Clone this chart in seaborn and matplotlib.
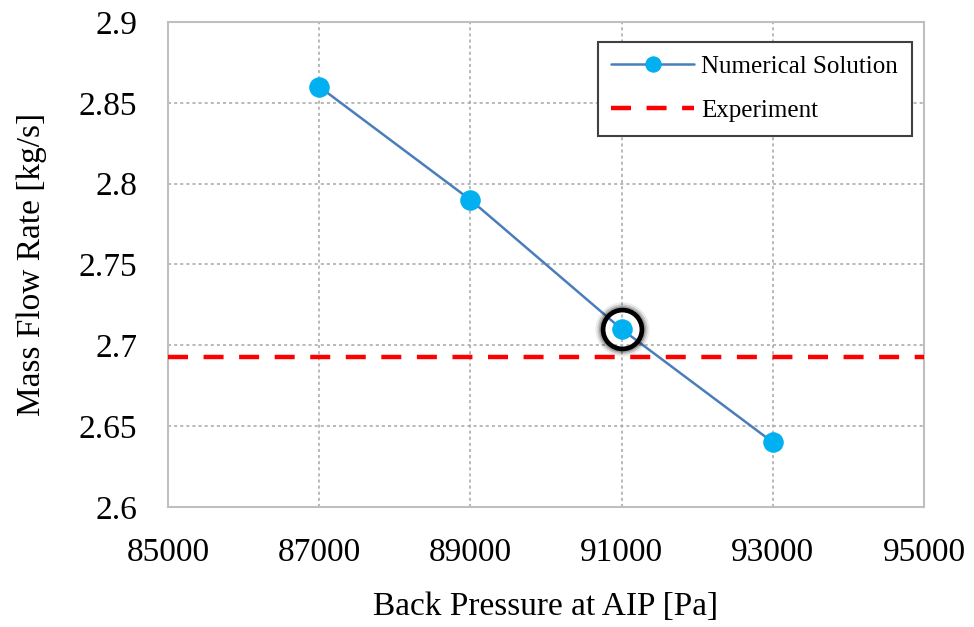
import matplotlib
matplotlib.use("Agg")
import matplotlib.pyplot as plt
import seaborn as sns
import pandas as pd
from matplotlib.ticker import FuncFormatter

back_pressure = [87000, 89000, 91000, 93000]
mass_flow = [2.86, 2.79, 2.71, 2.64]
experiment_value = 2.693
highlight_x = 91000
highlight_y = 2.71
x_ticks = [85000, 87000, 89000, 91000, 93000, 95000]
y_ticks = [2.6, 2.65, 2.7, 2.75, 2.8, 2.85, 2.9]

sns.set_theme(style="white")
plt.rcParams['font.family'] = ['Liberation Serif', 'DejaVu Serif']

df = pd.DataFrame({"x": back_pressure, "y": mass_flow})

fig = plt.figure(figsize=(9.74, 6.27), dpi=100)
ax = fig.add_axes([0.1725, 0.1914, 0.7762, 0.7735])

ax.axhline(experiment_value, color="#ff0000", lw=3.2, ls=(0, (4.5, 3.5)),
           label="Experiment", zorder=3)
sns.lineplot(data=df, x="x", y="y", ax=ax, color="#4a7ebb", lw=1.8,
             marker="o", markersize=14, markerfacecolor="#00b0f0",
             markeredgecolor="#00b0f0", label="Numerical Solution", zorder=4)

# highlight ring with soft glow
for s, a in [(36, 0.08), (33, 0.15), (30.5, 0.25)]:
    ax.plot([highlight_x], [highlight_y], marker="o", markersize=s,
            markerfacecolor="none", markeredgecolor="black", alpha=a,
            markeredgewidth=3, zorder=5)
ax.plot([highlight_x], [highlight_y], marker="o", markersize=28,
        markerfacecolor="none", markeredgecolor="black",
        markeredgewidth=3.4, zorder=6)

ax.set_xlim(85000, 95000)
ax.set_ylim(2.6, 2.9)
ax.set_xticks(x_ticks)
ax.set_yticks(y_ticks)
ax.yaxis.set_major_formatter(FuncFormatter(lambda v, p: f"{v:g}"))
ax.xaxis.set_major_formatter(FuncFormatter(lambda v, p: f"{int(v)}"))
ax.tick_params(labelsize=24, length=0, pad=22, labelcolor="black")
ax.set_xlabel("Back Pressure at AIP [Pa]", fontsize=24, labelpad=17, color="black")
ax.set_ylabel("Mass Flow Rate [kg/s]", fontsize=24, labelpad=23, color="black")

ax.grid(True, color="#a6a6a6", ls=(0, (2, 2)), lw=1.1)
for sp in ax.spines.values():
    sp.set_color("#bfbfbf")
    sp.set_linewidth(1.5)

handles, labels = ax.get_legend_handles_labels()
order = [labels.index("Numerical Solution"), labels.index("Experiment")]
leg = ax.legend([handles[i] for i in order], [labels[i] for i in order],
                loc="upper right", bbox_to_anchor=(0.984, 0.959),
                fontsize=18, frameon=True, fancybox=False, framealpha=1,
                edgecolor="#404040", borderpad=0.55, labelspacing=0.85,
                handlelength=3.3, handletextpad=0.3, borderaxespad=0)
leg.get_frame().set_linewidth(1.5)
for t in leg.get_texts():
    t.set_color("black")
for h in leg.legend_handles:
    if hasattr(h, "set_markersize"):
        h.set_markersize(11)

fig.savefig("out.png", dpi=100)
